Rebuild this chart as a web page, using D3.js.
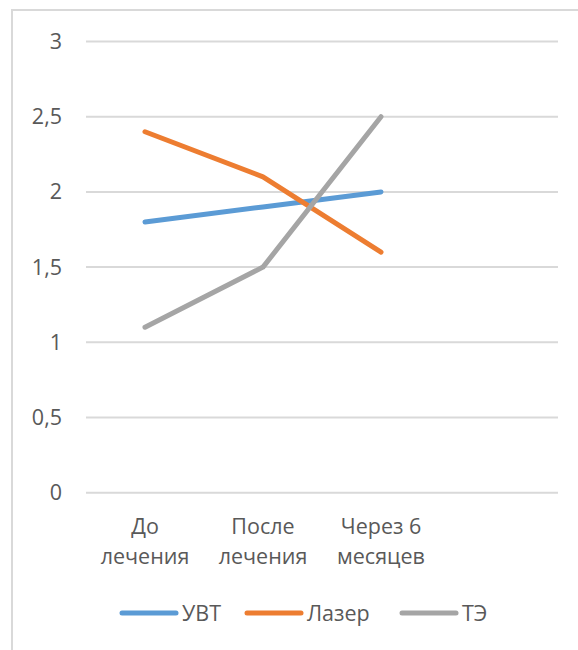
<!DOCTYPE html>
<html>
<head>
<meta charset="utf-8">
<script src="https://cdn.jsdelivr.net/npm/d3@7"></script>
<style>
  html, body { margin: 0; padding: 0; background: #fff; }
  svg { display: block; font-family: "Open Sans", "Noto Sans", sans-serif; }
</style>
</head>
<body>
<svg id="chart" width="578" height="650"></svg>
<script>
// Categories (x axis); a fourth empty slot keeps the plot's spacing
const categories = ["До лечения", "После лечения", "Через 6 месяцев"];
const slots = ["До лечения", "После лечения", "Через 6 месяцев", ""];
const categoryLines = [["До", "лечения"], ["После", "лечения"], ["Через 6", "месяцев"]];

// Series values
const uvt = [1.8, 1.9, 2.0];
const laser = [2.4, 2.1, 1.6];
const te = [1.1, 1.5, 2.5];

const seriesNames = ["УВТ", "Лазер", "ТЭ"];
const seriesColors = ["#5B9BD5", "#ED7D31", "#A5A5A5"];

const yTicks = [0, 0.5, 1, 1.5, 2, 2.5, 3];
const yTickLabels = ["0", "0,5", "1", "1,5", "2", "2,5", "3"];

const series = [uvt, laser, te].map((values, i) => ({
  name: seriesNames[i], color: seriesColors[i], values
}));

const svg = d3.select("#chart");
const textColor = "#595959";
const fontSize = 21.5;

// Outer frame
svg.append("rect")
  .attr("x", 12).attr("y", 10)
  .attr("width", 578).attr("height", 660)
  .attr("fill", "none").attr("stroke", "#d9d9d9").attr("stroke-width", 2);

const plot = { left: 86, right: 558, top: 41.5, bottom: 492.7 };

const x = d3.scaleBand().domain(slots).range([plot.left, plot.right]);
const y = d3.scaleLinear().domain([0, 3]).range([plot.bottom, plot.top]);

// Gridlines
svg.append("g").selectAll("line").data(yTicks).join("line")
  .attr("x1", plot.left).attr("x2", plot.right)
  .attr("y1", d => y(d)).attr("y2", d => y(d))
  .attr("stroke", "#d9d9d9").attr("stroke-width", 2);

// Y tick labels
svg.append("g").selectAll("text").data(yTicks).join("text")
  .attr("x", 62).attr("y", d => y(d))
  .attr("dy", "0.35em")
  .attr("text-anchor", "end")
  .attr("fill", textColor)
  .attr("font-size", fontSize)
  .text((d, i) => yTickLabels[i]);

// X category labels (two lines each)
const xl = svg.append("g").selectAll("text").data(categories).join("text")
  .attr("text-anchor", "middle")
  .attr("fill", textColor)
  .attr("font-size", fontSize);
xl.each(function (d, i) {
  const t = d3.select(this);
  categoryLines[i].forEach((line, j) => {
    t.append("tspan")
      .attr("x", x(d) + x.bandwidth() / 2)
      .attr("y", 534 + j * 30)
      .text(line);
  });
});

// Series lines
const line = d3.line()
  .x((d, i) => x(categories[i]) + x.bandwidth() / 2)
  .y(d => y(d));

svg.append("g").selectAll("path").data(series).join("path")
  .attr("d", d => line(d.values))
  .attr("fill", "none")
  .attr("stroke", d => d.color)
  .attr("stroke-width", 5)
  .attr("stroke-linecap", "round")
  .attr("stroke-linejoin", "round");

// Legend
const legendY = 613;
const legendX = [122, 247, 402];
const lg = svg.append("g").selectAll("g").data(series).join("g")
  .attr("transform", (d, i) => `translate(${legendX[i]},${legendY})`);
lg.append("line")
  .attr("x1", 0).attr("x2", 54)
  .attr("stroke", d => d.color)
  .attr("stroke-width", 5)
  .attr("stroke-linecap", "round");
lg.append("text")
  .attr("x", 60).attr("dy", "0.35em")
  .attr("fill", textColor)
  .attr("font-size", fontSize)
  .text(d => d.name);
</script>
</body>
</html>
